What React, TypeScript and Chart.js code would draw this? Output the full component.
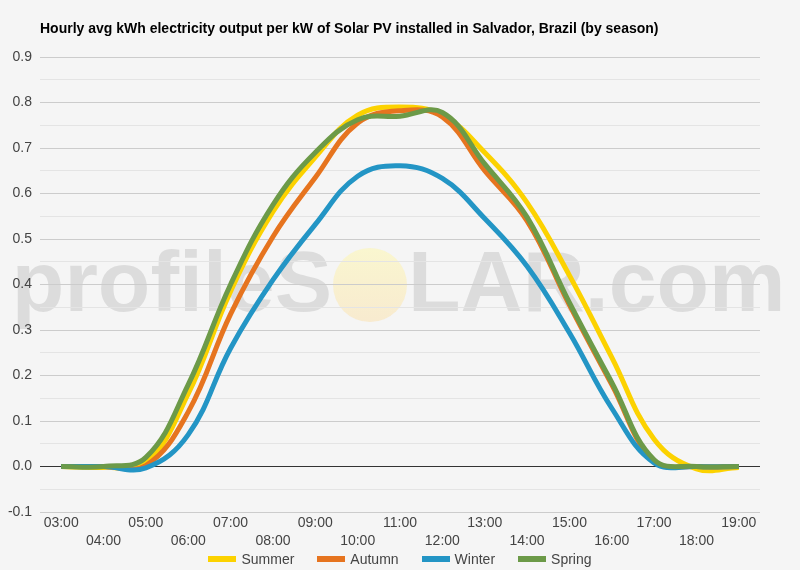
import React, { useEffect, useRef } from "react";
import { Chart, registerables } from "chart.js";
Chart.register(...registerables);

const hours = [
  "03:00", "04:00", "05:00", "06:00", "07:00", "08:00", "09:00", "10:00", "11:00",
  "12:00", "13:00", "14:00", "15:00", "16:00", "17:00", "18:00", "19:00",
];
const summer = [0, -0.002, 0.008, 0.16, 0.385, 0.56, 0.68, 0.772, 0.79, 0.772, 0.69, 0.58, 0.42, 0.24, 0.06, -0.005, -0.002];
const autumn = [0, 0, 0.002, 0.12, 0.335, 0.505, 0.635, 0.755, 0.782, 0.768, 0.65, 0.54, 0.355, 0.18, 0.012, 0, 0];
const winter = [0, 0, -0.003, 0.07, 0.26, 0.41, 0.532, 0.638, 0.661, 0.633, 0.545, 0.44, 0.294, 0.128, 0.008, 0, 0];
const spring = [0, 0, 0.02, 0.18, 0.4, 0.575, 0.69, 0.762, 0.77, 0.778, 0.665, 0.548, 0.36, 0.185, 0.015, 0, 0];

const seasons = ["Summer", "Autumn", "Winter", "Spring"];
const colors = ["#fcd200", "#e6741f", "#2395c5", "#6c9a48"];

const FONT = "'Liberation Sans', Arial, sans-serif";

// profileSOLAR.com watermark behind the grid
const watermark = {
  id: "watermark",
  beforeDraw(chart: any) {
    const ctx = chart.ctx;
    ctx.save();
    ctx.font = `bold 86px ${FONT}`;
    ctx.fillStyle = "rgba(0,0,0,0.1)";
    ctx.textBaseline = "alphabetic";
    ctx.textAlign = "right";
    ctx.fillText("profileS", 332, 311);
    ctx.textAlign = "left";
    ctx.fillText("LAR.com", 408, 311);
    const g = ctx.createLinearGradient(0, 248, 0, 322);
    g.addColorStop(0, "rgba(250,246,200,0.85)");
    g.addColorStop(1, "rgba(248,232,200,0.85)");
    ctx.fillStyle = g;
    ctx.beginPath();
    ctx.arc(370, 285, 37, 0, Math.PI * 2);
    ctx.fill();
    ctx.restore();
  },
};

const App: React.FC = () => {
  const canvasRef = useRef<HTMLCanvasElement | null>(null);

  useEffect(() => {
    document.body.style.margin = "0";
    if (!canvasRef.current) return;
    const series = [summer, autumn, winter, spring];
    const chart = new Chart(canvasRef.current, {
      type: "line",
      data: {
        labels: hours,
        datasets: seasons.map((name, i) => ({
          label: name,
          data: series[i],
          borderColor: colors[i],
          backgroundColor: colors[i],
          borderWidth: 5,
          pointRadius: 0,
          tension: 0.4,
          fill: false,
          order: 3 - i,
        })),
      },
      options: {
        responsive: false,
        animation: false,
        layout: { padding: { top: 57, right: 40, bottom: 20, left: 0 } },
        plugins: {
          legend: { display: false },
          title: { display: false },
          tooltip: { enabled: false },
        },
        scales: {
          x: {
            offset: true,
            border: { display: false },
            grid: { display: false, drawTicks: false },
            afterFit: (s: any) => {
              s.height = 38;
            },
            ticks: {
              autoSkip: false,
              maxRotation: 0,
              padding: 2,
              color: "#444",
              font: { family: FONT, size: 14, lineHeight: 18 / 14 },
              callback: (_v: any, i: number) => (i % 2 === 0 ? hours[i] : ["", hours[i]]),
            },
          },
          y: {
            min: -0.1,
            max: 0.9,
            border: { display: false },
            afterFit: (s: any) => {
              s.width = 40;
            },
            grid: {
              drawTicks: false,
              lineWidth: 1,
              color: (c: any) => {
                const v = Math.round(c.tick.value * 100);
                if (v === 0) return "#333333";
                return v % 10 === 0 ? "#cccccc" : "#e4e4e4";
              },
            },
            ticks: {
              stepSize: 0.05,
              autoSkip: false,
              padding: 8,
              color: "#444",
              font: { family: FONT, size: 14 },
              callback: (v: any) => {
                const n = Number(v);
                return Math.round(n * 100) % 10 === 0 ? (Math.round(n * 10) / 10).toFixed(1) : "";
              },
            },
          },
        },
      },
      plugins: [watermark],
    });
    return () => chart.destroy();
  }, []);

  return (
    <div style={{ position: "relative", width: 800, height: 570, background: "#f5f5f5", fontFamily: FONT }}>
      <canvas ref={canvasRef} width={800} height={570} style={{ position: "absolute", left: 0, top: 0 }} />
      <div
        style={{
          position: "absolute",
          left: 40,
          top: 21,
          fontSize: 14,
          lineHeight: "14px",
          fontWeight: "bold",
          color: "#000",
          whiteSpace: "nowrap",
        }}
      >
        Hourly avg kWh electricity output per kW of Solar PV installed in Salvador, Brazil (by season)
      </div>
      <div
        style={{
          position: "absolute",
          left: 0,
          width: 800,
          top: 551,
          height: 16,
          display: "flex",
          justifyContent: "center",
          alignItems: "center",
          fontSize: 14,
          color: "#444",
        }}
      >
        {seasons.map((name, i) => (
          <div key={name} style={{ display: "flex", alignItems: "center", marginRight: i < seasons.length - 1 ? 23 : 0 }}>
            <span style={{ display: "inline-block", width: 28, height: 6, background: colors[i], marginRight: 5 }} />
            <span>{name}</span>
          </div>
        ))}
      </div>
    </div>
  );
};

export default App;
